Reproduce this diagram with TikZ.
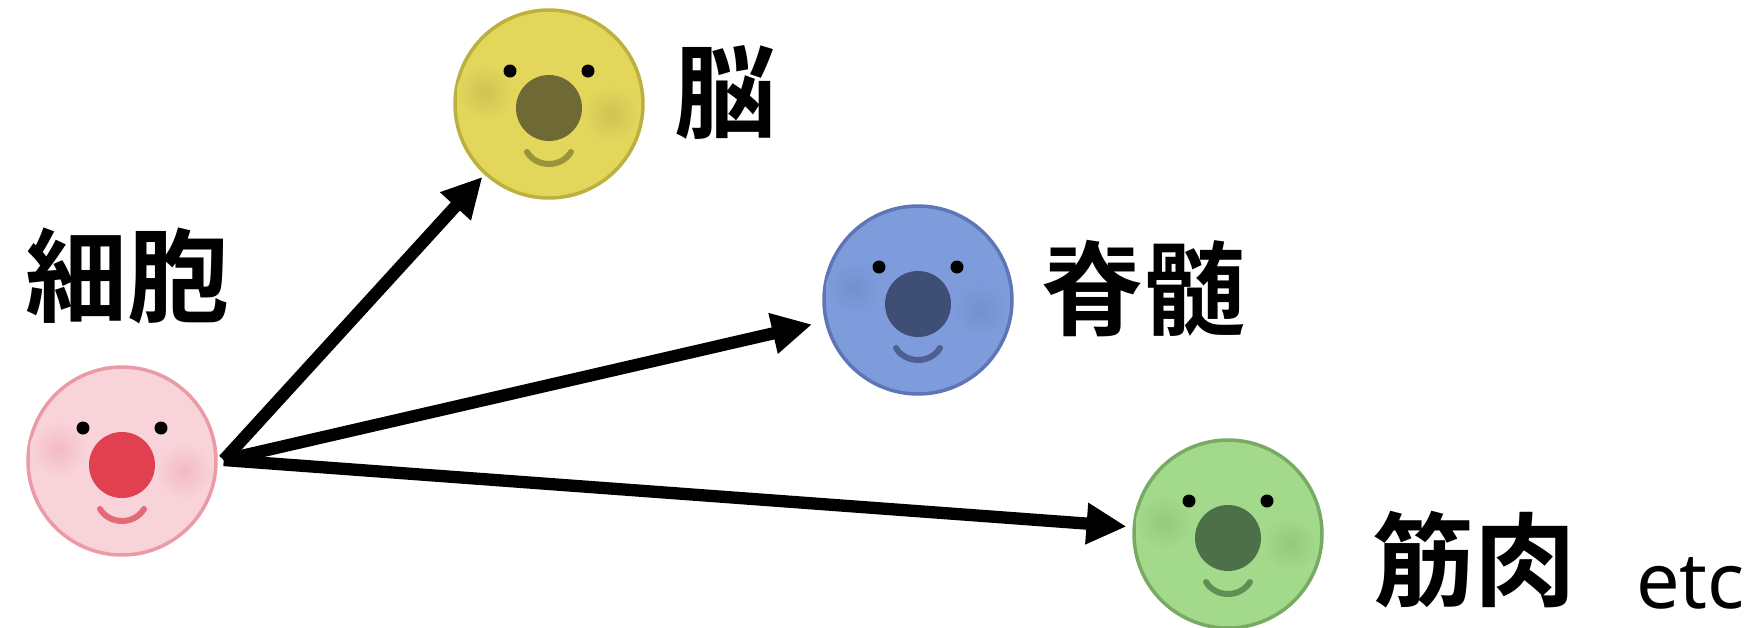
\documentclass[tikz,border=0pt]{standalone}
\usepackage{fontspec}
\newfontfamily\jpfont{Noto Sans CJK JP}[BoldFont={Noto Sans CJK JP Bold}]
\newfontfamily\latinfont{Noto Sans}
\usetikzlibrary{arrows.meta,calc}

% cell palettes: body, outline, nose, mouth, cheeks
\definecolor{pinkbody}{HTML}{F8D3D9}
\definecolor{pinkline}{HTML}{EC9AA6}
\definecolor{pinknose}{HTML}{E0404F}
\definecolor{pinkmouth}{HTML}{E56A78}
\definecolor{pinkcheek}{HTML}{F3BAC3}
\definecolor{yellowbody}{HTML}{E2D65B}
\definecolor{yellowline}{HTML}{BDB03E}
\definecolor{yellownose}{HTML}{6F6A35}
\definecolor{yellowmouth}{HTML}{9A9339}
\definecolor{yellowcheek}{HTML}{CFC455}
\definecolor{bluebody}{HTML}{7E9CDC}
\definecolor{blueline}{HTML}{5E76B5}
\definecolor{bluenose}{HTML}{3F4E75}
\definecolor{bluemouth}{HTML}{4F5F90}
\definecolor{bluecheek}{HTML}{7390CE}
\definecolor{greenbody}{HTML}{A3D98A}
\definecolor{greenline}{HTML}{77AB63}
\definecolor{greennose}{HTML}{4E7048}
\definecolor{greenmouth}{HTML}{5E8F55}
\definecolor{greencheek}{HTML}{94C97E}

\tikzset{
  cellbody/.style={circle, minimum size=3.76cm, inner sep=0pt, line width=2pt},
  organ/.style={font=\jpfont\bfseries\fontsize{58}{60}\selectfont, inner sep=0pt,
    text depth=0pt, anchor=base},
  growth/.style={line width=7pt, -{Triangle[length=0.8cm,width=0.78cm]}}
}

% #1 name, #2 centre, #3 body, #4 outline, #5 nose, #6 mouth, #7 cheeks
\newcommand\drawcell[7]{%
  \node[cellbody, fill=#3, draw=#4] (#1) at (#2) {};
  \begin{scope}[shift={(#1.center)}]
    \shade[inner color=#7, outer color=#3] (-64,-12) circle (28);
    \shade[inner color=#7, outer color=#3] (62,10) circle (28);
    \fill[black] (-39,-33) circle (6.5);
    \fill[black] (39,-33) circle (6.5);
    \fill[#5] (0,4) circle (33);
    \draw[#6, line width=3.4pt, line cap=round]
      (-22,48) .. controls (-12,64) and (12,64) .. (22,48);
  \end{scope}
}

\begin{document}
\begin{tikzpicture}[x=0.02cm, y=-0.02cm]
  \useasboundingbox (0,0) rectangle (1754,627);

  \drawcell{stem}{122,461}{pinkbody}{pinkline}{pinknose}{pinkmouth}{pinkcheek}
  \drawcell{brain}{549,104}{yellowbody}{yellowline}{yellownose}{yellowmouth}{yellowcheek}
  \drawcell{spine}{918,300}{bluebody}{blueline}{bluenose}{bluemouth}{bluecheek}
  \drawcell{muscle}{1228,534}{greenbody}{greenline}{greennose}{greenmouth}{greencheek}

  \node[organ] (tstem) at (127,314) {細胞};
  \node[organ] (tbrain) at (725,130) {脳};
  \node[organ] (tspine) at (1143,327) {脊髄};
  \node[organ] (tmuscle) at (1474,598) {筋肉};
  \node[font=\latinfont\fontsize{44}{46}\selectfont, inner sep=0pt, anchor=base west]
    (tetc) at (1636,608) {etc};

  \coordinate (src) at ($(stem.east)+(6,-1)$);
  \draw[growth, shorten >=0.06cm] (src) -- (brain);
  \draw[growth, shorten >=0.26cm] (src) -- (spine);
  \draw[growth, shorten >=0.12cm] (src) -- (muscle);
\end{tikzpicture}
\end{document}
